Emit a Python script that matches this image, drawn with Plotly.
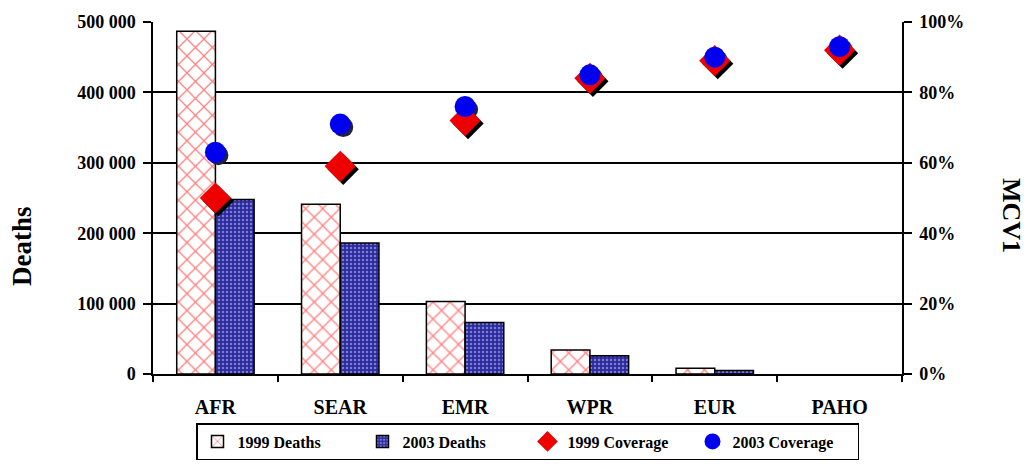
import plotly.graph_objects as go

regions = ["AFR", "SEAR", "EMR", "WPR", "EUR", "PAHO"]
deaths_1999 = [487000, 241000, 103000, 34000, 8000, None]
deaths_2003 = [248000, 186000, 73000, 26000, 5000, None]
coverage_1999 = [0.50, 0.59, 0.72, 0.84, 0.89, 0.92]
coverage_2003 = [0.63, 0.71, 0.76, 0.85, 0.90, 0.93]

FONT = "Liberation Serif"
W, H = 1034, 464
ML, MR, MT, MB = 153, 132, 22, 90
PW = W - ML - MR
PH = H - MT - MB
cat_px = PW / len(regions)
dx = 3 / cat_px      # shadow offset in category units
dy = 3 / PH          # shadow offset in coverage units

fig = go.Figure()

fig.add_trace(go.Bar(name="1999 Deaths", x=regions, y=deaths_1999,
                     marker=dict(color="white", line=dict(color="black", width=1.5),
                                 pattern=dict(shape="x", fgcolor="#ff0000", bgcolor="white",
                                              size=12, solidity=0.2))))
fig.add_trace(go.Bar(name="2003 Deaths", x=regions, y=deaths_2003,
                     marker=dict(color="#2b2b9c", line=dict(color="black", width=1.5),
                                 pattern=dict(shape=".", fgcolor="#d0d0f4", bgcolor="#2a2aa0",
                                              size=4, solidity=0.3))))

# shadows (subplot x2/y3, drawn below the markers)
fig.add_trace(go.Scatter(x=regions, y=coverage_1999, mode="markers", xaxis="x2", yaxis="y3",
                         marker=dict(symbol="diamond", size=24, color="black"),
                         showlegend=False, hoverinfo="skip"))
fig.add_trace(go.Scatter(x=regions, y=coverage_2003, mode="markers", xaxis="x2", yaxis="y3",
                         marker=dict(symbol="circle", size=20, color="#202040"),
                         showlegend=False, hoverinfo="skip"))

# coverage markers (subplot x3/y2)
fig.add_trace(go.Scatter(name="1999 Coverage", x=regions, y=coverage_1999, mode="markers",
                         xaxis="x3", yaxis="y2",
                         marker=dict(symbol="diamond", size=24, color="#ee0000")))
fig.add_trace(go.Scatter(name="2003 Coverage", x=regions, y=coverage_2003, mode="markers",
                         xaxis="x3", yaxis="y2",
                         marker=dict(symbol="circle", size=21, color="#0000ee")))

tickfont = dict(family=FONT, size=18, color="black", weight="bold")
cat_axis = dict(type="category", categoryorder="array", categoryarray=regions)

fig.update_layout(
    width=W, height=H, autosize=False,
    margin=dict(l=ML, r=MR, t=MT, b=MB, pad=0, autoexpand=False),
    paper_bgcolor="white", plot_bgcolor="white",
    separators=". ",
    barmode="group", bargap=0.38, bargroupgap=0,
    font=dict(family=FONT, color="black"),
    showlegend=True,
    legend=dict(orientation="h", x=0.5, xanchor="center",
                y=-(423 - (H - MB)) / PH, yanchor="top",
                bordercolor="black", borderwidth=1.5, bgcolor="white",
                font=dict(family=FONT, size=16, color="black", weight="bold"),
                itemwidth=30, tracegroupgap=0, entrywidth=120, entrywidthmode="pixels"),
    xaxis=dict(**cat_axis, range=[-0.5, len(regions) - 0.5],
               showline=True, linecolor="black", linewidth=1.5,
               ticks="outside", tickson="boundaries", ticklen=6, tickcolor="black", tickwidth=1.5,
               tickfont=dict(family=FONT, size=20, color="black", weight="bold"),
               ticklabelstandoff=14, showgrid=False),
    xaxis2=dict(**cat_axis, overlaying="x", visible=False,
                range=[-0.5 - dx, len(regions) - 0.5 - dx]),
    xaxis3=dict(**cat_axis, overlaying="x", visible=False,
                range=[-0.5, len(regions) - 0.5]),
    yaxis=dict(range=[0, 500000], dtick=100000, tickformat=",d",
               showgrid=True, gridcolor="black", gridwidth=1.5,
               showline=True, linecolor="black", linewidth=1.5,
               ticks="outside", ticklen=8, tickcolor="black", tickwidth=1.5,
               tickfont=tickfont, zeroline=False, ticklabelstandoff=4),
    yaxis2=dict(range=[0, 1], dtick=0.2, tickformat=".0%", overlaying="y", side="right",
                showgrid=False, showline=True, linecolor="black", linewidth=1.5,
                ticks="outside", ticklen=8, tickcolor="black", tickwidth=1.5,
                tickfont=tickfont, zeroline=False, ticklabelstandoff=4),
    yaxis3=dict(range=[dy, 1 + dy], overlaying="y", visible=False),
    annotations=[
        dict(text="Deaths", xref="paper", yref="paper",
             x=(22 - ML) / PW, y=(H - MB - 246) / PH, xanchor="center", yanchor="middle",
             textangle=-90, showarrow=False,
             font=dict(family=FONT, size=27, color="black", weight="bold")),
        dict(text="MCV1", xref="paper", yref="paper",
             x=(1012 - ML) / PW, y=(H - MB - 215) / PH, xanchor="center", yanchor="middle",
             textangle=90, showarrow=False,
             font=dict(family=FONT, size=26, color="black", weight="bold")),
    ],
)

fig.write_html("out.html")
